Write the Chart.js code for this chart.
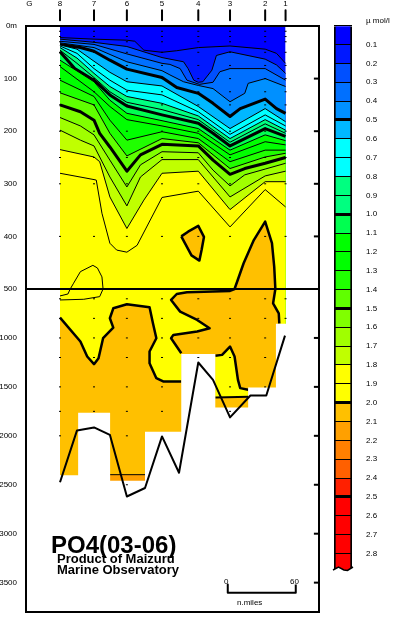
<!DOCTYPE html>
<html>
<head>
<meta charset="utf-8">
<style>
html, body { margin: 0; background: #fff; }
canvas { position: absolute; top: 0; }
#section { left: 0; }
#legend { left: 332px; }
</style>
<script src="https://cdn.jsdelivr.net/npm/chart.js@4/dist/chart.umd.js"></script>
</head>
<body>
<canvas id="section" width="395" height="620"></canvas>
<canvas id="legend" width="63" height="620"></canvas>
<script>
// Stations along the section, x is n.miles from station 8
const stationNames = ['G', '8', '7', '6', '5', '4', '3', '2', '1'];
const stationTicks = [-27, 0, 30, 59, 90, 122, 150, 181, 199];
const stationMiles = [0, 30, 59, 90, 122, 150, 181, 199];
const depthTicks = [0, 100, 200, 300, 400, 500, 1000, 1500, 2000, 2500, 3000, 3500];
const sampleDepths = [10, 20, 30, 50, 75, 100, 125, 150, 200, 250, 300, 400, 500, 600, 800, 1000, 1200, 1500, 1750, 2000, 2500];
const stationLastSample = [2000, 1750, 2500, 1750, 1200, 1750, 1500, 800];

// Colour of each 0.1 band, starting with 0 - 0.1
const bandColors = ['#0000ff', '#0018ff', '#0050ff', '#0070ff', '#0090ff', '#00b8ff', '#00ffff', '#00ffff',
    '#00ff80', '#00ff80', '#00ff50', '#00ff00', '#00ff00', '#20ff00', '#60ff00', '#80ff00', '#a0ff00', '#c0ff00',
    '#ffff00', '#ffff00', '#ffc000', '#ffa000', '#ff8000', '#ff6000', '#ff2000', '#ff0000', '#ff0000', '#ff0000', '#ff0000'];
const legendEdges = [0, 0.1, 0.2, 0.3, 0.4, 0.5, 0.6, 0.7, 0.8, 0.9, 1.0, 1.1, 1.2, 1.3, 1.4, 1.5, 1.6, 1.7, 1.8, 1.9,
    2.0, 2.1, 2.2, 2.3, 2.4, 2.5, 2.6, 2.7, 2.8, 2.888];
const legendTicks = [-0.025, 0, 0.1, 0.2, 0.3, 0.4, 0.5, 0.6, 0.7, 0.8, 0.9, 1.0, 1.1, 1.2, 1.3, 1.4, 1.5, 1.6, 1.7, 1.8, 1.9,
    2.0, 2.1, 2.2, 2.3, 2.4, 2.5, 2.6, 2.7, 2.8];
const legendThick = [0.5, 1.0, 1.5, 2.0, 2.5];

// Contours, [n.miles, depth m]
const c01 = [[0,22],[30,25],[59,27],[66,29],[74,46],[90,50],[103,47],[122,41],[150,38],[181,44],[191,52],[199,71]];
const c02 = [[0,25],[30,31],[59,39],[90,60],[97,63],[109,68],[113,81],[118,103],[122,107],[126,106],[134,84],[138,56],[150,49],[181,63],[191,74],[199,90]];
const c03 = [[0,29],[30,35],[59,53],[90,71],[97,73],[106,81],[112,103],[123,111],[135,107],[141,87],[150,81],[181,81],[199,103]];
const c04 = [[0,32],[30,41],[59,68],[90,85],[97,93],[109,106],[122,113],[135,119],[150,144],[163,128],[166,109],[181,100],[199,115]];
const c05 = [[0,35],[18,41],[30,48],[44,65],[59,82],[90,98],[103,117],[122,128],[135,147],[150,172],[159,157],[181,139],[191,157],[199,166]];
const c06 = [[0,36],[15,44],[30,67],[44,88],[59,106],[90,114],[122,153],[150,195],[181,157],[199,182]];
const c07 = [[0,38],[15,52],[30,81],[44,103],[59,122],[90,131],[122,163],[150,206],[181,169],[199,190]];
const c08 = [[0,41],[15,61],[30,90],[44,115],[59,134],[90,147],[122,171],[150,214],[181,178],[199,198]];
const c09 = [[0,46],[15,71],[30,98],[44,125],[59,145],[90,159],[122,178],[150,221],[181,186],[199,204]];
const c10 = [[0,49],[13,81],[30,103],[44,131],[59,152],[90,169],[122,185],[135,204],[150,228],[181,195],[199,210]];
const c11 = [[0,65],[30,106],[44,141],[59,166],[90,180],[122,195],[150,236],[181,207],[199,218]];
const c12 = [[0,77],[30,125],[44,153],[59,178],[90,190],[122,204],[150,245],[181,220],[199,226]];
const c13 = [[0,103],[30,134],[44,179],[59,217],[90,201],[122,214],[150,258],[181,236],[199,236]];
const c14 = [[0,127],[30,150],[44,204],[59,247],[90,214],[122,222],[150,271],[181,249],[199,242]];
const c15 = [[0,150],[18,163],[30,179],[35,204],[44,230],[59,276],[71,245],[90,225],[122,228],[135,255],[150,282],[163,271],[181,261],[199,250]];
const c16 = [[0,174],[18,190],[30,207],[44,255],[59,306],[71,264],[90,239],[122,241],[135,274],[150,304],[163,283],[181,272],[199,261]];
const c17 = [[0,198],[18,217],[30,228],[44,287],[59,342],[71,287],[90,254],[122,254],[150,325],[181,285],[199,276]];
const c18 = [[0,235],[30,249],[35,258],[44,325],[59,385],[74,331],[90,280],[122,276],[150,349],[181,296],[199,296]];
const c19 = [[0,280],[30,292],[32,293],[37,356],[44,413],[50,426],[59,430],[68,417],[90,326],[122,314],[150,382],[181,311],[199,344]];
const contours = [c01, c02, c03, c04, c05, c06, c07, c08, c09, c10, c11, c12, c13, c14, c15, c16, c17, c18, c19];

// 1.9 closed loop near station 8 and the 2.0 patches
const loop19 = [[0,571],[7,551],[9,500],[12,489],[18,467],[29,455],[33,460],[37,477],[38,500],[35,578],[21,605],[0,612]];
const patch20 = [[107,400],[113,391],[122,380],[127,401],[125,425],[123,446],[116,436],[107,400]];
const west20 = [[0,792],[18,1037],[24,1190],[30,1268],[34,1207],[38,1003],[47,894],[44,799],[47,697],[59,656],[79,687],[82,850],[85,1003],[79,1139],[79,1258],[85,1411],[91,1445],[107,1445]];
const west20Close = [[107,3000],[0,3000]];
const east20 = [[107,1156],[98,1003],[100,969],[121,935],[132,901],[121,816],[106,731],[98,612],[103,551],[112,534],[150,520],[154,500],[162,451],[171,407],[181,372],[187,413],[189,458],[190,500],[188,646],[193,748],[193.5,854]];
const east20Close = [[193.5,3000],[107,3000]];
const pocket19 = [[137,1183],[143,1173],[150,1088],[154,1190],[157,1428],[159,1513],[166,1530]];
const pocket19Close = [[166,1608],[137,1608]];
const pocketFloor = [[137,1608],[167,1600]];
const deep21 = [[44.2,2397],[75,2397]];

// Where the data stop, one depth per column between the edges
// (outer edges run a little past the stations so no tinted fringe is left)
const columnEdges = [-1, 16, 44.2, 75, 107, 137, 166, 190.5, 201];
const columnBottoms = [2404, 1765, 2458, 1958, 1163, 1710, 1506, 854, 854];
const bottomMiles = [0, 15, 30, 44, 59, 75, 90, 105, 122, 135, 150, 168, 182, 198.5];
const bottomDepths = [2475, 1945, 1914, 1990, 2620, 2533, 2006, 2377, 1251, 1428, 1812, 1588, 1588, 976];
const scaleBar = [[148,3519],[148,3604],[208,3604],[208,3519]];

// Upper 500 m takes the first 263 px of the 586 px frame, the rest is compressed
class DepthScale extends Chart.LinearScale {
    static id = 'depth';
    static defaults = Chart.LinearScale.defaults;
    getPixelForValue(value) {
        const mid = this.top + (this.bottom - this.top) * 263 / 586;
        if (value <= 500) return this.top + (mid - this.top) * value / 500;
        return mid + (this.bottom - mid) * (value - 500) / (this.max - 500);
    }
}
Chart.register(DepthScale);

const toXY = pts => pts.map(p => ({ x: p[0], y: p[1] }));

function lineLayer(pts, width) {
    return { data: toXY(pts), showLine: true, pointRadius: 0, fill: false, borderColor: '#000', borderWidth: width, borderJoinStyle: 'round' };
}
// width 0 is ignored by canvas, so an unlined fill needs a transparent border
function fillLayer(pts, color, width) {
    return { data: toXY(pts), showLine: true, pointRadius: 0, fill: 'start', backgroundColor: color, borderColor: width ? '#000' : 'transparent', borderWidth: width, borderJoinStyle: 'round' };
}
function shapeLayer(pts, color) {
    return { data: toXY(pts), showLine: true, pointRadius: 0, fill: 'shape', backgroundColor: color, borderColor: 'transparent', borderWidth: 0 };
}

// Painter's order: every layer covers what lies deeper than it
const layers = [fillLayer([[0,0],[199,0]], bandColors[0], 0)];
contours.forEach((c, i) => {
    layers.push(fillLayer(c, bandColors[i + 1], (i + 1) % 5 === 0 ? 3 : 1));
});
layers.push(lineLayer(loop19, 1));
layers.push(shapeLayer(patch20, bandColors[20]));
layers.push(lineLayer(patch20, 2.5));
layers.push(shapeLayer(west20.concat(west20Close), bandColors[20]));
layers.push(shapeLayer(east20.concat(east20Close), bandColors[20]));
layers.push(shapeLayer(pocket19.concat(pocket19Close), bandColors[19]));
layers.push(fillLayer(deep21, bandColors[21], 1));
layers.push(lineLayer(west20, 2.5));
layers.push(lineLayer(east20, 2.5));
layers.push(lineLayer(pocket19, 2.5));
layers.push(lineLayer(pocketFloor, 2));

const maskPts = columnEdges.map((x, i) => [x, columnBottoms[i]]);
layers.push(Object.assign(fillLayer(maskPts, '#fff', 0), { stepped: 'before' }));
layers.push(lineLayer(bottomMiles.map((x, i) => [x, bottomDepths[i]]), 2));
layers.push(lineLayer([[-30,500],[228.5,500]], 2));
layers.push(lineLayer(scaleBar, 2));

// Sample dots at every station
const dots = [];
stationMiles.forEach((x, i) => {
    sampleDepths.filter(d => d <= stationLastSample[i]).forEach(d => dots.push({ x: x, y: d }));
});
layers.push({ data: dots, pointStyle: 'line', pointRadius: 1, pointBorderWidth: 1, pointBorderColor: '#000', clip: false });

// Right hand ticks and the station marks above the frame
layers.push({ data: depthTicks.map(d => ({ x: 226.2, y: d })), pointStyle: 'line', pointRadius: 2.5, pointBorderWidth: 2, pointBorderColor: '#000' });
const stationMarks = [];
stationMiles.forEach(x => {
    stationMarks.push({ x: x, y: -30 }, { x: x, y: -11 }, { x: x, y: NaN });
});
layers.push(Object.assign(lineLayer([], 2), { data: stationMarks, clip: false, spanGaps: false }));

const labelFont = { family: '"Liberation Sans"', size: 8 };
const frameEdge = { display: true, width: 2, color: '#000', z: 1 };

const sectionTexts = {
    id: 'sectionTexts',
    afterDraw(chart) {
        const ctx = chart.ctx;
        ctx.save();
        ctx.fillStyle = '#000';
        ctx.textBaseline = 'alphabetic';
        ctx.font = 'bold 24px "Liberation Sans"';
        ctx.fillText('PO4(03-06)', 51, 553);
        ctx.font = 'bold 13px "Liberation Sans"';
        ctx.fillText('Product of Maizuru', 57, 563);
        ctx.fillText('Marine Observatory', 57, 574);
        ctx.font = '8px "Liberation Sans"';
        ctx.fillText('0', 224, 584);
        ctx.fillText('60', 290, 584);
        ctx.fillText('n.miles', 237, 605);
        ctx.restore();
    }
};

new Chart(document.getElementById('section'), {
    type: 'scatter',
    data: { datasets: layers.reverse() },
    plugins: [sectionTexts],
    options: {
        responsive: false,
        animation: false,
        devicePixelRatio: 1,
        layout: { padding: { right: 76, bottom: 8 } },
        plugins: { legend: { display: false }, tooltip: { enabled: false }, title: { display: false } },
        scales: {
            x: {
                type: 'linear', position: 'top', min: -30, max: 228.5,
                afterBuildTicks: s => { s.ticks = stationTicks.map(v => ({ value: v })); },
                afterFit: s => { s.height = 26; s.paddingLeft = 0; s.paddingRight = 0; },
                grid: { display: false, drawTicks: false },
                border: frameEdge,
                ticks: {
                    autoSkip: false, maxRotation: 0, padding: 17, font: labelFont, color: '#000', align: 'center',
                    callback: v => stationNames[stationTicks.indexOf(v)]
                }
            },
            x2: {
                type: 'linear', position: 'bottom', min: -30, max: 228.5,
                afterFit: s => { s.height = 0; },
                grid: { display: false, drawTicks: false }, ticks: { display: false }, border: frameEdge
            },
            y: {
                type: 'depth', position: 'left', min: 0, max: 3800,
                afterBuildTicks: s => { s.ticks = depthTicks.map(v => ({ value: v })); },
                afterFit: s => { s.width = 26; s.paddingTop = 0; s.paddingBottom = 0; },
                grid: { display: false, drawTicks: false },
                border: frameEdge,
                ticks: {
                    autoSkip: false, padding: 9, font: labelFont, color: '#000',
                    callback: v => (v === 0 ? '0m' : String(v))
                }
            },
            y2: {
                type: 'depth', position: 'right', min: 0, max: 3800,
                afterFit: s => { s.width = 0; },
                grid: { display: false, drawTicks: false }, ticks: { display: false }, border: frameEdge
            }
        }
    }
});

// Wavy lower end of the colour bar
const legendNotch = {
    id: 'legendNotch',
    afterDatasetsDraw(chart) {
        const { ctx, chartArea: a } = chart;
        const w = a.right - a.left;
        const wave = () => {
            ctx.moveTo(a.left - 1, a.bottom);
            ctx.lineTo(a.left + w * 0.25, a.bottom - 3);
            ctx.lineTo(a.left + w * 0.55, a.bottom);
            ctx.lineTo(a.left + w * 0.75, a.bottom + 0.5);
            ctx.lineTo(a.right + 1, a.bottom - 3);
        };
        ctx.save();
        ctx.beginPath();
        wave();
        ctx.lineTo(a.right + 1, a.bottom + 3);
        ctx.lineTo(a.left - 1, a.bottom + 3);
        ctx.closePath();
        ctx.fillStyle = '#fff';
        ctx.fill();
        ctx.beginPath();
        wave();
        ctx.strokeStyle = '#000';
        ctx.lineWidth = 1.5;
        ctx.stroke();
        ctx.restore();
    }
};

new Chart(document.getElementById('legend'), {
    type: 'bar',
    data: {
        labels: [''],
        datasets: bandColors.map((color, i) => ({
            data: [[legendEdges[i], legendEdges[i + 1]]],
            backgroundColor: color,
            borderColor: '#000',
            borderWidth: { left: 2, right: 2, top: 0, bottom: 0 },
            borderSkipped: false,
            grouped: false,
            barPercentage: 1,
            categoryPercentage: 1
        }))
    },
    plugins: [legendNotch],
    options: {
        responsive: false,
        animation: false,
        devicePixelRatio: 1,
        layout: { padding: { top: 21, bottom: 50, left: 2 } },
        plugins: { legend: { display: false }, tooltip: { enabled: false } },
        scales: {
            x: { display: false },
            y: {
                position: 'right', reverse: true, min: -0.025, max: 2.888,
                afterBuildTicks: s => { s.ticks = legendTicks.map(v => ({ value: v })); },
                afterFit: s => { s.width = 43; },
                border: { display: false },
                grid: {
                    drawTicks: false, z: 1,
                    color: c => (c.tick && c.tick.value < 0 ? 'transparent' : '#000'),
                    lineWidth: c => (c.tick && legendThick.includes(c.tick.value) ? 3 : 1)
                },
                ticks: {
                    autoSkip: false, padding: 14, font: labelFont, color: '#000',
                    callback: v => (v < 0 ? '\u00b5 mol/l' : v === 0 ? '' : v.toFixed(1))
                }
            }
        }
    }
});
</script>
</body>
</html>
